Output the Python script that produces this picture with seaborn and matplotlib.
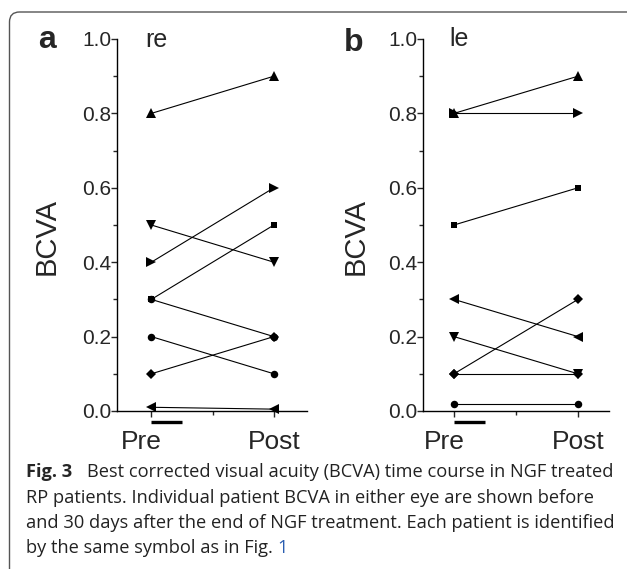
import numpy as np
import pandas as pd
import matplotlib
matplotlib.use("Agg")
import matplotlib.pyplot as plt
import matplotlib.transforms as mtransforms
from matplotlib.patches import FancyBboxPatch
from matplotlib.ticker import MultipleLocator
import seaborn as sns

# values (BCVA, Pre -> Post)
time_labels = ["Pre", "Post"]

re_markers = ["^", "v", ">", "s", "o", "o", "D", "<"]
re_pre = [0.8, 0.5, 0.4, 0.3, 0.3, 0.2, 0.1, 0.01]
re_post = [0.9, 0.4, 0.6, 0.5, 0.2, 0.1, 0.2, 0.005]

le_markers = [">", "^", "s", "<", "v", "D", "D", "o"]
le_pre = [0.8, 0.8, 0.5, 0.3, 0.2, 0.1, 0.1, 0.02]
le_post = [0.8, 0.9, 0.6, 0.2, 0.1, 0.3, 0.1, 0.02]

caption_lines = [
    "Best corrected visual acuity (BCVA) time course in NGF treated",
    "RP patients. Individual patient BCVA in either eye are shown before",
    "and 30 days after the end of NGF treatment. Each patient is identified",
    "by the same symbol as in Fig. ",
]

sns.set_style("ticks")
plt.rcParams["font.family"] = ["Liberation Sans", "DejaVu Sans"]

W, H = 627, 569
fig = plt.figure(figsize=(W / 100, H / 100), dpi=100)

msize = {"^": 7.0, "v": 7.0, "<": 7.0, ">": 7.0, "o": 5.4, "s": 5.0, "D": 5.4}


def panel(rect, markers, pre, post, letter, eye, xlim, ylab_x, letter_xy, eye_xy):
    ax = fig.add_axes(rect)
    for i, m in enumerate(markers):
        df = pd.DataFrame({"t": [0, 1], "bcva": [pre[i], post[i]]})
        sns.lineplot(data=df, x="t", y="bcva", ax=ax, color="black", lw=0.8,
                     marker=m, markersize=msize[m], markeredgewidth=0,
                     clip_on=False, zorder=3)
    ax.set_xlim(*xlim)
    ax.set_ylim(0, 1.0)
    ax.set_xticks([0, 1])
    ax.set_xticklabels(time_labels, fontsize=19)
    ax.xaxis.set_minor_locator(MultipleLocator(0.5))
    ax.yaxis.set_major_locator(MultipleLocator(0.2))
    ax.yaxis.set_minor_locator(MultipleLocator(0.1))
    ax.yaxis.set_major_formatter(matplotlib.ticker.FormatStrFormatter("%.1f"))
    ax.tick_params(axis="y", which="major", labelsize=15, length=4, width=1, pad=0)
    ax.tick_params(axis="x", which="major", length=4, width=1, pad=10)
    ax.tick_params(which="minor", length=3, width=1)
    ax.set_xlabel("")
    ax.set_ylabel("BCVA", fontsize=21, va="center")
    ax.yaxis.set_label_coords(ylab_x, 0.47)
    sns.despine(ax=ax)
    for s in ["left", "bottom"]:
        ax.spines[s].set_linewidth(1)
        ax.spines[s].set_color("black")
    # "Pre" label sits a little left of its tick
    pre_lab = ax.get_xticklabels()[0]
    pre_lab.set_transform(pre_lab.get_transform()
                          + mtransforms.ScaledTranslation(-0.1, 0, fig.dpi_scale_trans))
    # short black bar under "Pre"
    tr = mtransforms.blended_transform_factory(ax.transData, ax.transAxes)
    ax.plot([0, 0.25], [-0.03, -0.03], color="black", lw=2.4, transform=tr,
            clip_on=False, solid_capstyle="butt")
    fig.text(letter_xy[0] / W, 1 - letter_xy[1] / H, letter, fontsize=23,
             fontweight="bold", ha="center", va="baseline")
    fig.text(eye_xy[0] / W, 1 - eye_xy[1] / H, eye, fontsize=18, ha="left",
             va="baseline")
    return ax


ax_a = panel([117 / W, 1 - 411 / H, 190 / W, 372 / H], re_markers, re_pre, re_post,
             "a", "re", (-0.28, 1.27), -0.37, (47, 48), (145, 47))
ax_b = panel([423 / W, 1 - 411 / H, 186 / W, 372 / H], le_markers, le_pre, le_post,
             "b", "le", (-0.25, 1.25), -0.36, (354, 51), (449, 46))

# rounded frame around the figure block
frame = FancyBboxPatch((0.095, -0.3), 7.5, 5.57 + 0.3,
                       boxstyle="round,pad=0,rounding_size=0.1",
                       transform=fig.dpi_scale_trans, fill=False,
                       edgecolor="#555555", lw=1.0)
fig.add_artist(frame)

# caption
cap_font = ["Open Sans", "DejaVu Sans"]
fig.canvas.draw()
renderer = fig.canvas.get_renderer()
probe = fig.text(0, 0, caption_lines[2], family=cap_font, fontsize=13)
w = probe.get_window_extent(renderer).width
probe.remove()
cap_size = 13 * 585 / w

baselines = [477, 503, 528, 553]
fig_lbl = fig.text(26 / W, 1 - baselines[0] / H, "Fig. 3", family=cap_font,
                   fontsize=cap_size, fontweight="bold", va="baseline")
fig.text(87 / W, 1 - baselines[0] / H, caption_lines[0], family=cap_font,
         fontsize=cap_size, va="baseline", color="#222222")
last = None
for line, yb in zip(caption_lines[1:], baselines[1:]):
    last = fig.text(26 / W, 1 - yb / H, line, family=cap_font, fontsize=cap_size,
                    va="baseline", color="#222222")
fig.canvas.draw()
ext = last.get_window_extent(renderer)
fig.text(ext.x1 / W, 1 - baselines[3] / H, "1", family=cap_font, fontsize=cap_size,
         va="baseline", color="#2a5db0")

fig.savefig("out.png", dpi=100)
